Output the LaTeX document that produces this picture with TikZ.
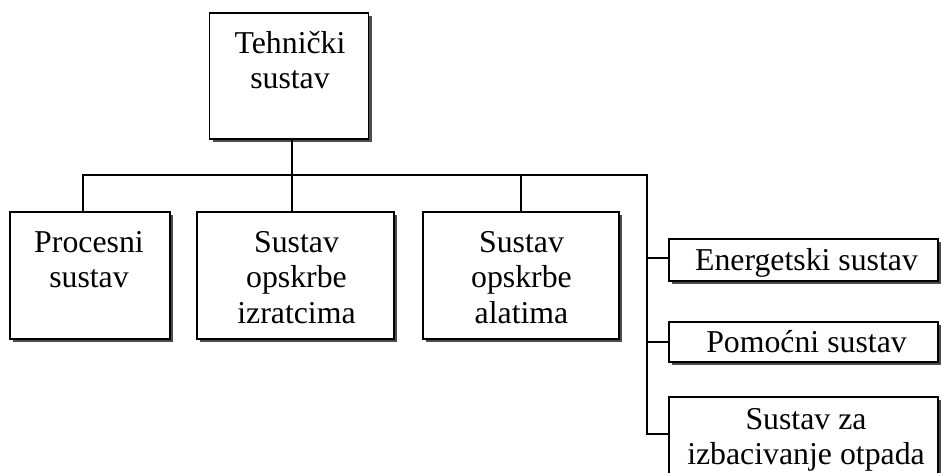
\documentclass[tikz,border=0pt]{standalone}
\usepackage{fontspec}
\setmainfont{Liberation Serif}
\usetikzlibrary{shadows}
\begin{document}
\begin{tikzpicture}[x=1pt,y=-1pt,
  box/.style={draw, line width=1.6pt, fill=white, inner sep=0pt,
    drop shadow={shadow xshift=3pt, shadow yshift=-3pt, fill=black!70, opacity=1}},
  txt/.style={font=\fontsize{31.8}{35.5}\selectfont, align=center, inner sep=0pt, anchor=north},
  wire/.style={line width=1.5pt}]
\useasboundingbox (0,0) rectangle (941,472);
\clip (0,0) rectangle (941,472);
\fill[white] (0,0) rectangle (941,472);

% boxes
\node[box, minimum width=159pt, minimum height=126pt] (top) at (289,76) {};
\node[box, minimum width=160pt, minimum height=127pt] (p1) at (90,275.5) {};
\node[box, minimum width=197pt, minimum height=127pt] (p2) at (295.5,275.5) {};
\node[box, minimum width=196pt, minimum height=127pt] (p3) at (521,275.5) {};
\node[box, minimum width=269pt, minimum height=42pt] (r1) at (803.5,260) {};
\node[box, minimum width=269pt, minimum height=40pt] (r2) at (803.5,342) {};
\node[box, minimum width=269pt, minimum height=100pt] (r3) at (803.5,447) {};

% texts
\node[txt] (ttop) at (290,28) {\strut Tehnički\\sustav};
\node[txt] (tp1) at (89,227) {\strut Procesni\\sustav};
\node[txt] (tp2) at (296.5,227) {\strut Sustav\\opskrbe\\izratcima};
\node[txt] (tp3) at (521.5,227) {\strut Sustav\\opskrbe\\alatima};
\node[txt] (tr1) at (806.5,245) {\strut Energetski sustav};
\node[txt] (tr2) at (806.5,327) {\strut Pomoćni sustav};
\node[txt] (tr3) at (806,404) {\strut Sustav za\\izbacivanje otpada};

% connectors
\coordinate (b1) at (83,175);
\coordinate (b2) at (292,175);
\coordinate (b3) at (521,175);
\coordinate (sp) at (647,175);
\coordinate (sp1) at (647,258);
\coordinate (sp2) at (647,342);
\coordinate (sp3) at (647,434);
\draw[wire] (b2 |- top.south) -- (b2);
\draw[wire] (b1 |- p1.north) -- (b1) -- (sp) -- (sp3) -- (sp3 -| r3.west);
\draw[wire] (b2) -- (b2 |- p2.north);
\draw[wire] (b3) -- (b3 |- p3.north);
\draw[wire] (sp1) -- (sp1 -| r1.west);
\draw[wire] (sp2) -- (sp2 -| r2.west);
\end{tikzpicture}
\end{document}
